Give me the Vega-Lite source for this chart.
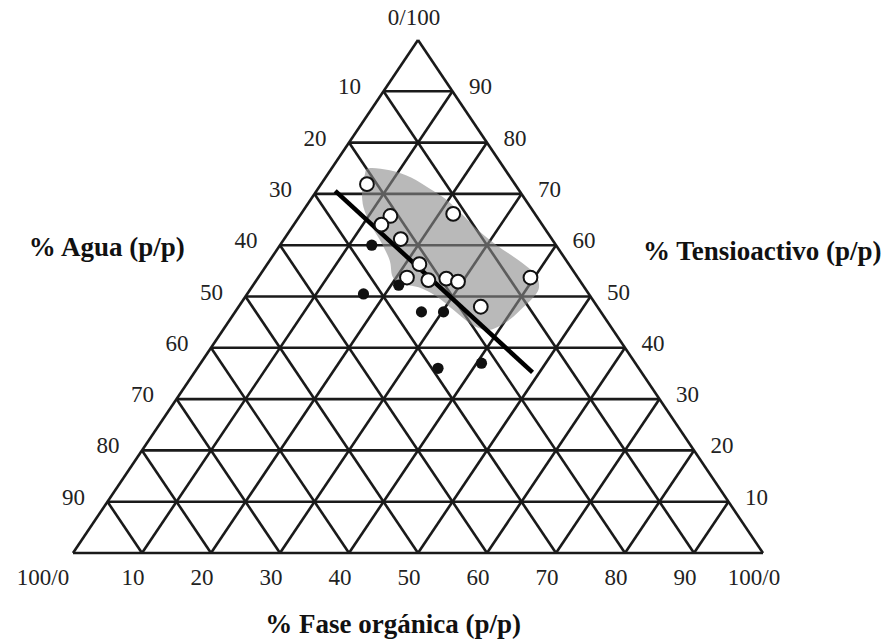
{
  "$schema": "https://vega.github.io/schema/vega-lite/v6.json",
  "width": 690,
  "height": 513,
  "autosize": {"type": "none"},
  "padding": {"left": 73, "top": 40, "right": 132, "bottom": 90},
  "background": "white",
  "config": {"view": {"stroke": null}},
  "datasets": {
    "grid": [
      {"x": 5, "y": 10, "x2": 95, "y2": 10},
      {"x": 10, "y": 20, "x2": 90, "y2": 20},
      {"x": 15, "y": 30, "x2": 85, "y2": 30},
      {"x": 20, "y": 40, "x2": 80, "y2": 40},
      {"x": 25, "y": 50, "x2": 75, "y2": 50},
      {"x": 30, "y": 60, "x2": 70, "y2": 60},
      {"x": 35, "y": 70, "x2": 65, "y2": 70},
      {"x": 40, "y": 80, "x2": 60, "y2": 80},
      {"x": 45, "y": 90, "x2": 55, "y2": 90},
      {"x": 10, "y": 0, "x2": 55, "y2": 90},
      {"x": 20, "y": 0, "x2": 60, "y2": 80},
      {"x": 30, "y": 0, "x2": 65, "y2": 70},
      {"x": 40, "y": 0, "x2": 70, "y2": 60},
      {"x": 50, "y": 0, "x2": 75, "y2": 50},
      {"x": 60, "y": 0, "x2": 80, "y2": 40},
      {"x": 70, "y": 0, "x2": 85, "y2": 30},
      {"x": 80, "y": 0, "x2": 90, "y2": 20},
      {"x": 90, "y": 0, "x2": 95, "y2": 10},
      {"x": 90, "y": 0, "x2": 45, "y2": 90},
      {"x": 80, "y": 0, "x2": 40, "y2": 80},
      {"x": 70, "y": 0, "x2": 35, "y2": 70},
      {"x": 60, "y": 0, "x2": 30, "y2": 60},
      {"x": 50, "y": 0, "x2": 25, "y2": 50},
      {"x": 40, "y": 0, "x2": 20, "y2": 40},
      {"x": 30, "y": 0, "x2": 15, "y2": 30},
      {"x": 20, "y": 0, "x2": 10, "y2": 20},
      {"x": 10, "y": 0, "x2": 5, "y2": 10},
      {"x": 0, "y": 0, "x2": 100, "y2": 0},
      {"x": 0, "y": 0, "x2": 50, "y2": 100},
      {"x": 100, "y": 0, "x2": 50, "y2": 100}
    ],
    "blob": [
      {"i": 1, "x": 42.9, "y": 75.0},
      {"i": 2, "x": 45.9, "y": 74.6},
      {"i": 3, "x": 49.0, "y": 73.2},
      {"i": 4, "x": 51.6, "y": 71.1},
      {"i": 5, "x": 53.9, "y": 69.1},
      {"i": 6, "x": 56.2, "y": 66.3},
      {"i": 7, "x": 58.8, "y": 62.8},
      {"i": 8, "x": 61.3, "y": 60.1},
      {"i": 9, "x": 63.9, "y": 57.7},
      {"i": 10, "x": 66.0, "y": 55.6},
      {"i": 11, "x": 67.3, "y": 53.6},
      {"i": 12, "x": 67.5, "y": 51.5},
      {"i": 13, "x": 66.7, "y": 49.8},
      {"i": 14, "x": 65.1, "y": 47.7},
      {"i": 15, "x": 63.4, "y": 45.6},
      {"i": 16, "x": 61.3, "y": 43.9},
      {"i": 17, "x": 59.8, "y": 43.5},
      {"i": 18, "x": 57.7, "y": 44.6},
      {"i": 19, "x": 55.2, "y": 47.3},
      {"i": 20, "x": 52.6, "y": 50.1},
      {"i": 21, "x": 50.1, "y": 51.8},
      {"i": 22, "x": 47.5, "y": 52.5},
      {"i": 23, "x": 46.3, "y": 53.9},
      {"i": 24, "x": 45.9, "y": 57.0},
      {"i": 25, "x": 44.7, "y": 60.5},
      {"i": 26, "x": 43.2, "y": 63.9},
      {"i": 27, "x": 42.1, "y": 67.4},
      {"i": 28, "x": 41.9, "y": 70.8},
      {"i": 29, "x": 42.3, "y": 73.8}
    ],
    "boundary": [
      {"x": 38.0, "y": 70.6},
      {"x": 66.6, "y": 35.2}
    ],
    "open": [
      {"x": 42.6, "y": 71.9},
      {"x": 46.0, "y": 65.7},
      {"x": 44.7, "y": 64.0},
      {"x": 47.5, "y": 61.2},
      {"x": 55.1, "y": 66.1},
      {"x": 50.2, "y": 56.3},
      {"x": 48.4, "y": 53.7},
      {"x": 51.5, "y": 53.2},
      {"x": 54.1, "y": 53.5},
      {"x": 55.8, "y": 52.9},
      {"x": 66.3, "y": 53.7},
      {"x": 59.1, "y": 48.0}
    ],
    "filled": [
      {"x": 43.3, "y": 60.0},
      {"x": 47.2, "y": 52.2},
      {"x": 42.1, "y": 50.5},
      {"x": 50.5, "y": 47.0},
      {"x": 53.7, "y": 47.0},
      {"x": 52.9, "y": 36.0},
      {"x": 59.2, "y": 37.0}
    ],
    "bottomLabels": [
      {"x": 10, "y": 0, "t": "10"},
      {"x": 20, "y": 0, "t": "20"},
      {"x": 30, "y": 0, "t": "30"},
      {"x": 40, "y": 0, "t": "40"},
      {"x": 50, "y": 0, "t": "50"},
      {"x": 60, "y": 0, "t": "60"},
      {"x": 70, "y": 0, "t": "70"},
      {"x": 80, "y": 0, "t": "80"},
      {"x": 90, "y": 0, "t": "90"},
      {"x": 100, "y": 0, "t": "100/0"}
    ],
    "leftLabels": [
      {"x": 45, "y": 90, "t": "10"},
      {"x": 40, "y": 80, "t": "20"},
      {"x": 35, "y": 70, "t": "30"},
      {"x": 30, "y": 60, "t": "40"},
      {"x": 25, "y": 50, "t": "50"},
      {"x": 20, "y": 40, "t": "60"},
      {"x": 15, "y": 30, "t": "70"},
      {"x": 10, "y": 20, "t": "80"},
      {"x": 5, "y": 10, "t": "90"}
    ],
    "rightLabels": [
      {"x": 55, "y": 90, "t": "90"},
      {"x": 60, "y": 80, "t": "80"},
      {"x": 65, "y": 70, "t": "70"},
      {"x": 70, "y": 60, "t": "60"},
      {"x": 75, "y": 50, "t": "50"},
      {"x": 80, "y": 40, "t": "40"},
      {"x": 85, "y": 30, "t": "30"},
      {"x": 90, "y": 20, "t": "20"},
      {"x": 95, "y": 10, "t": "10"}
    ],
    "titles": [
      {"x": 4.9, "y": 59.5, "t": "% Agua (p/p)"},
      {"x": 99.9, "y": 58.7, "t": "% Tensioactivo (p/p)"},
      {"x": 46.4, "y": -14.0, "t": "% Fase orgánica (p/p)"}
    ]
  },
  "layer": [
    {
      "data": {"name": "grid"},
      "mark": {"type": "rule", "color": "#1a1a1a", "strokeWidth": 2.6},
      "encoding": {
        "x": {"field": "x", "type": "quantitative", "scale": {"domain": [0, 100], "nice": false}, "axis": null},
        "y": {"field": "y", "type": "quantitative", "scale": {"domain": [0, 100], "nice": false}, "axis": null},
        "x2": {"field": "x2"},
        "y2": {"field": "y2"}
      }
    },
    {
      "data": {"name": "blob"},
      "mark": {"type": "line", "interpolate": "cardinal-closed", "fill": "#8a8a8a", "fillOpacity": 0.6, "strokeWidth": 0, "strokeOpacity": 0},
      "encoding": {
        "x": {"field": "x", "type": "quantitative"},
        "y": {"field": "y", "type": "quantitative"},
        "order": {"field": "i", "type": "quantitative"}
      }
    },
    {
      "data": {"name": "boundary"},
      "mark": {"type": "line", "color": "#000000", "strokeWidth": 4.5},
      "encoding": {
        "x": {"field": "x", "type": "quantitative"},
        "y": {"field": "y", "type": "quantitative"}
      }
    },
    {
      "data": {"name": "open"},
      "mark": {"type": "point", "shape": "circle", "filled": true, "fill": "white", "stroke": "#111111", "strokeWidth": 2, "size": 190, "opacity": 1},
      "encoding": {
        "x": {"field": "x", "type": "quantitative"},
        "y": {"field": "y", "type": "quantitative"}
      }
    },
    {
      "data": {"name": "filled"},
      "mark": {"type": "point", "shape": "circle", "filled": true, "fill": "#111111", "size": 125, "opacity": 1},
      "encoding": {
        "x": {"field": "x", "type": "quantitative"},
        "y": {"field": "y", "type": "quantitative"}
      }
    },
    {
      "data": {"name": "bottomLabels"},
      "mark": {"type": "text", "font": "Liberation Serif", "fontSize": 23, "color": "#222222", "dx": -9, "dy": 25, "align": "center", "baseline": "middle"},
      "encoding": {
        "x": {"field": "x", "type": "quantitative"},
        "y": {"field": "y", "type": "quantitative"},
        "text": {"field": "t"}
      }
    },
    {
      "data": {"name": "leftLabels"},
      "mark": {"type": "text", "font": "Liberation Serif", "fontSize": 23, "color": "#222222", "dx": -34, "dy": -4, "align": "center", "baseline": "middle"},
      "encoding": {
        "x": {"field": "x", "type": "quantitative"},
        "y": {"field": "y", "type": "quantitative"},
        "text": {"field": "t"}
      }
    },
    {
      "data": {"name": "rightLabels"},
      "mark": {"type": "text", "font": "Liberation Serif", "fontSize": 23, "color": "#222222", "dx": 28, "dy": -4, "align": "center", "baseline": "middle"},
      "encoding": {
        "x": {"field": "x", "type": "quantitative"},
        "y": {"field": "y", "type": "quantitative"},
        "text": {"field": "t"}
      }
    },
    {
      "data": {"values": [{"x": 50, "y": 100, "t": "0/100"}]},
      "mark": {"type": "text", "font": "Liberation Serif", "fontSize": 23, "color": "#222222", "dx": -4, "dy": -22, "align": "center", "baseline": "middle"},
      "encoding": {
        "x": {"field": "x", "type": "quantitative"},
        "y": {"field": "y", "type": "quantitative"},
        "text": {"field": "t"}
      }
    },
    {
      "data": {"values": [{"x": 0, "y": 0, "t": "100/0"}]},
      "mark": {"type": "text", "font": "Liberation Serif", "fontSize": 23, "color": "#222222", "dx": -30, "dy": 25, "align": "center", "baseline": "middle"},
      "encoding": {
        "x": {"field": "x", "type": "quantitative"},
        "y": {"field": "y", "type": "quantitative"},
        "text": {"field": "t"}
      }
    },
    {
      "data": {"name": "titles"},
      "mark": {"type": "text", "font": "Liberation Serif", "fontSize": 27, "fontWeight": "bold", "color": "#111111", "align": "center", "baseline": "middle"},
      "encoding": {
        "x": {"field": "x", "type": "quantitative"},
        "y": {"field": "y", "type": "quantitative"},
        "text": {"field": "t"}
      }
    }
  ]
}
